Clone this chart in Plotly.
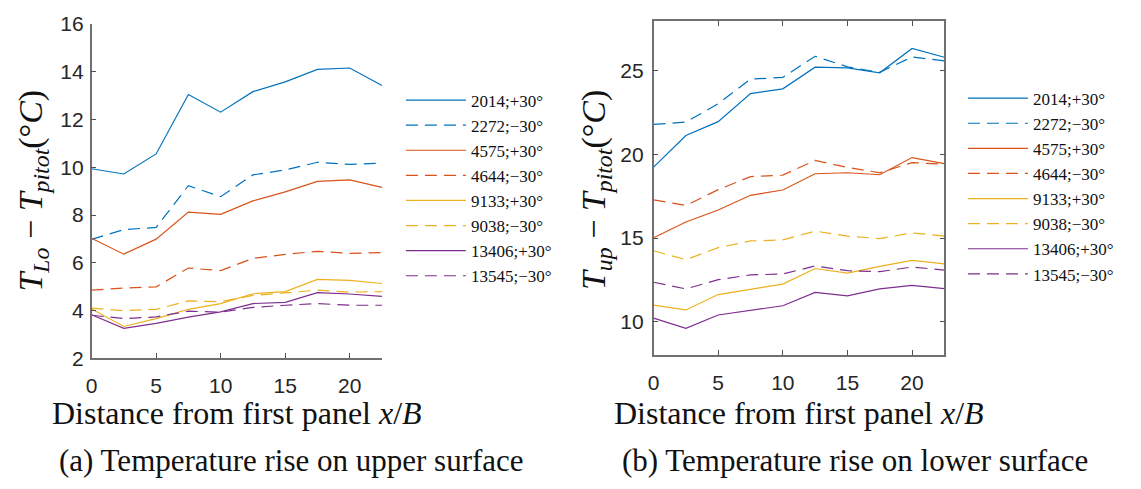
import plotly.graph_objects as go

W, H = 1141, 489

x_pos = [0, 2.5, 5, 7.5, 10, 12.5, 15, 17.5, 20, 22.5]

labels = ["2014;+30°", "2272;−30°", "4575;+30°", "4644;−30°",
          "9133;+30°", "9038;−30°", "13406;+30°", "13545;−30°"]
colors = ["#0072BD", "#0072BD", "#D95319", "#D95319",
          "#EDB120", "#EDB120", "#7E2F8E", "#7E2F8E"]
dashes = ["solid", "12px,7px"] * 4

# (a) upper surface: T_Lo - T_pitot
upper_2014 = [9.94, 9.72, 10.56, 13.05, 12.31, 13.17, 13.58, 14.10, 14.16, 13.43]
upper_2272 = [6.98, 7.39, 7.48, 9.23, 8.77, 9.68, 9.89, 10.21, 10.12, 10.17]
upper_4575 = [7.03, 6.36, 6.99, 8.12, 8.03, 8.59, 8.97, 9.41, 9.47, 9.16]
upper_4644 = [4.85, 4.94, 4.99, 5.78, 5.67, 6.18, 6.35, 6.48, 6.39, 6.43]
upper_9133 = [4.06, 3.33, 3.66, 4.05, 4.29, 4.70, 4.79, 5.30, 5.26, 5.13]
upper_9038 = [4.10, 3.99, 4.05, 4.40, 4.37, 4.63, 4.74, 4.85, 4.77, 4.79]
upper_13406 = [3.82, 3.25, 3.46, 3.72, 3.94, 4.29, 4.34, 4.75, 4.69, 4.59]
upper_13545 = [3.80, 3.66, 3.73, 3.97, 3.93, 4.13, 4.22, 4.29, 4.22, 4.22]

# (b) lower surface: T_up - T_pitot
lower_2014 = [19.25, 21.14, 21.97, 23.65, 23.93, 25.23, 25.19, 24.89, 26.35, 25.82]
lower_2272 = [21.80, 21.94, 23.04, 24.51, 24.62, 25.88, 25.25, 24.92, 25.84, 25.61]
lower_4575 = [15.02, 15.96, 16.68, 17.56, 17.88, 18.85, 18.91, 18.79, 19.82, 19.46]
lower_4644 = [17.29, 16.95, 17.90, 18.68, 18.77, 19.65, 19.23, 18.91, 19.52, 19.42]
lower_9133 = [10.99, 10.70, 11.62, 11.94, 12.25, 13.18, 12.91, 13.31, 13.67, 13.46]
lower_9038 = [14.24, 13.71, 14.43, 14.83, 14.89, 15.42, 15.12, 14.97, 15.31, 15.12]
lower_13406 = [10.21, 9.60, 10.40, 10.67, 10.95, 11.75, 11.54, 11.96, 12.17, 11.98]
lower_13545 = [12.36, 11.96, 12.51, 12.80, 12.85, 13.33, 13.05, 12.99, 13.27, 13.08]

upper = [upper_2014, upper_2272, upper_4575, upper_4644,
         upper_9133, upper_9038, upper_13406, upper_13545]
lower = [lower_2014, lower_2272, lower_4575, lower_4644,
         lower_9133, lower_9038, lower_13406, lower_13545]

xticks = [0, 5, 10, 15, 20]
yticks_a = [2, 4, 6, 8, 10, 12, 14, 16]
yticks_b = [10, 15, 20, 25]

fig = go.Figure()
for i in range(8):
    fig.add_trace(go.Scatter(x=x_pos, y=upper[i], mode="lines", name=labels[i],
                             line=dict(color=colors[i], width=1.2, dash=dashes[i]),
                             xaxis="x", yaxis="y", legend="legend"))
for i in range(8):
    fig.add_trace(go.Scatter(x=x_pos, y=lower[i], mode="lines", name=labels[i],
                             line=dict(color=colors[i], width=1.2, dash=dashes[i]),
                             xaxis="x2", yaxis="y2", legend="legend2"))

tickfont = dict(family="Liberation Sans, Arial, sans-serif", size=21, color="#262626")
axcommon = dict(showgrid=False, zeroline=False, showline=True, linecolor="#707070",
                linewidth=1.5, ticks="inside", ticklen=5, tickcolor="#505050",
                tickwidth=1, tickfont=tickfont)

serif = "Liberation Serif, Times New Roman, serif"
legcommon = dict(xanchor="left", yanchor="top", bgcolor="rgba(0,0,0,0)",
                 font=dict(family=serif, size=17, color="#111"),
                 tracegroupgap=0, itemwidth=60)

fig.update_layout(
    width=W, height=H, margin=dict(l=0, r=0, t=0, b=0),
    paper_bgcolor="white", plot_bgcolor="white",
    xaxis=dict(domain=[86 / W, 378 / W], range=[0, 22.5], tickvals=xticks,
               anchor="y", ticklabelstandoff=8, **axcommon),
    yaxis=dict(domain=[1 - 363.3 / H, 1 - 12.7 / H], range=[2, 16], tickvals=yticks_a,
               anchor="x", ticklabelstandoff=2, **axcommon),
    xaxis2=dict(domain=[651 / W, 943.3 / W], range=[0, 22.5], tickvals=xticks,
                anchor="y2", mirror="ticks", ticklabelstandoff=8, **axcommon),
    yaxis2=dict(domain=[1 - 360 / H, 1 - 9.3 / H], range=[8, 28], tickvals=yticks_b,
                anchor="x2", mirror="ticks", ticklabelstandoff=4, **axcommon),
    legend=dict(x=397 / W, y=1 - 74 / H, **legcommon),
    legend2=dict(x=962 / W, y=1 - 72 / H, **legcommon),
    showlegend=True,
)

ann_font_big = dict(family=serif, size=34, color="#111")
ann_font_x = dict(family=serif, size=32, color="#111")
ann_font_cap = dict(family=serif, size=31, color="#111")
annotations = [
    dict(text="<i>T</i><sub><i>Lo</i></sub> − <i>T</i><sub><i>pitot</i></sub>(°<i>C</i>)",
         x=27.5 / W, y=1 - 187 / H, textangle=-90, font=ann_font_big),
    dict(text="<i>T</i><sub><i>up</i></sub> − <i>T</i><sub><i>pitot</i></sub>(°<i>C</i>)",
         x=593 / W, y=1 - 187 / H, textangle=-90, font=ann_font_big),
    dict(text="Distance from first panel <i>x</i>/<i>B</i>",
         x=232 / W, y=1 - 421 / H, font=ann_font_x),
    dict(text="Distance from first panel <i>x</i>/<i>B</i>",
         x=797 / W, y=1 - 421 / H, font=ann_font_x),
    dict(text="(a) Temperature rise on upper surface",
         x=287.5 / W, y=1 - 471 / H, font=ann_font_cap),
    dict(text="(b) Temperature rise on lower surface",
         x=853 / W, y=1 - 471 / H, font=ann_font_cap),
]
for a in annotations:
    a.update(xref="paper", yref="paper", showarrow=False, xanchor="center", yanchor="middle")
fig.update_layout(annotations=annotations)

fig.write_html("out.html")
